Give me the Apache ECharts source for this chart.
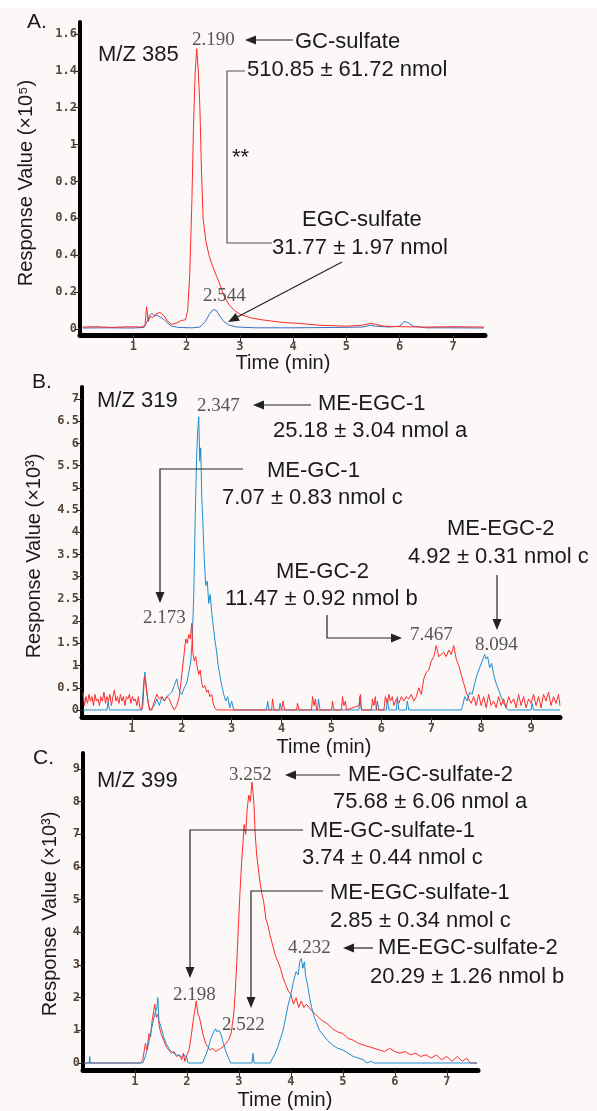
<!DOCTYPE html>
<html>
<head>
<meta charset="utf-8">
<script src="https://cdn.jsdelivr.net/npm/echarts@6/dist/echarts.min.js"></script>
<style>
  html, body { margin: 0; padding: 0; background: #fcf8f7; }
  #chart { width: 597px; height: 1111px; }
</style>
</head>
<body>
<div id="chart"></div>
<script>
// ---- data: [time (min), response] ----
// Panel A, m/z 385, response x10^5
const aRed = [[0.05,0.01],[0.3,0.012],[0.6,0.008],[0.9,0.012],[1.15,0.01],[1.22,0.02],[1.25,0.12],[1.28,0.04],[1.32,0.07],[1.36,0.06],[1.42,0.08],[1.5,0.09],[1.58,0.07],[1.65,0.04],[1.72,0.025],[1.8,0.03],[1.9,0.045],[1.98,0.05],[2.02,0.1],[2.06,0.3],[2.1,0.7],[2.13,1.1],[2.16,1.38],[2.19,1.52],[2.22,1.4],[2.25,1.2],[2.28,0.85],[2.31,0.6],[2.36,0.48],[2.42,0.4],[2.5,0.33],[2.6,0.26],[2.7,0.18],[2.8,0.13],[2.9,0.1],[3.0,0.08],[3.2,0.06],[3.4,0.05],[3.8,0.035],[4.1,0.03],[4.5,0.02],[5.0,0.015],[5.3,0.02],[5.45,0.03],[5.55,0.025],[5.7,0.015],[6.0,0.012],[6.5,0.01],[7.0,0.012],[7.58,0.01]];
const aBlue = [[0.05,0.005],[0.5,0.006],[1.0,0.005],[1.2,0.008],[1.26,0.04],[1.3,0.07],[1.35,0.085],[1.4,0.07],[1.45,0.075],[1.5,0.065],[1.58,0.05],[1.65,0.03],[1.72,0.015],[1.85,0.008],[2.1,0.006],[2.25,0.01],[2.35,0.04],[2.43,0.08],[2.5,0.105],[2.56,0.1],[2.62,0.07],[2.7,0.04],[2.8,0.02],[2.95,0.01],[3.3,0.006],[4.0,0.006],[4.8,0.008],[5.3,0.01],[5.45,0.02],[5.55,0.015],[5.8,0.01],[6.0,0.015],[6.08,0.04],[6.15,0.035],[6.25,0.015],[6.5,0.006],[7.0,0.006],[7.58,0.005]];

// Panel B, m/z 319, response x10^3
const bRed = [[0.02,0.4],[0.05,0.1],[0.08,0.3],[0.11,0.15],[0.14,0.35],[0.17,0.2],[0.2,0.3],[0.23,0.1],[0.26,0.35],[0.29,0.2],[0.32,0.25],[0.35,0.1],[0.38,0.3],[0.41,0.2],[0.44,0.4],[0.47,0.15],[0.5,0.3],[0.53,0.2],[0.56,0.35],[0.59,0.1],[0.62,0.3],[0.65,0.45],[0.68,0.2],[0.71,0.3],[0.74,0.15],[0.77,0.35],[0.8,0.2],[0.83,0.3],[0.86,0.1],[0.89,0.3],[0.92,0.25],[0.95,0.35],[0.98,0.15],[1.01,0.3],[1.04,0.2],[1.07,0.25],[1.1,0.1],[1.13,0.3],[1.16,0.05],[1.19,0],[1.22,0.1],[1.25,0.75],[1.28,0.6],[1.31,0.3],[1.35,0],[1.4,0],[1.45,0.2],[1.5,0.35],[1.55,0.25],[1.6,0.3],[1.65,0.2],[1.7,0.3],[1.75,0.25],[1.8,0.1],[1.85,0],[1.9,0.1],[1.95,0.3],[2.0,0.8],[2.05,1.3],[2.08,1.6],[2.11,1.5],[2.14,1.7],[2.17,1.6],[2.2,1.95],[2.22,1.3],[2.25,1.1],[2.28,1.2],[2.31,0.95],[2.34,0.8],[2.37,0.9],[2.4,0.6],[2.43,0.5],[2.46,0.55],[2.5,0.4],[2.53,0.45],[2.56,0.3],[2.6,0.35],[2.63,0.15],[2.66,0.05],[2.7,0],[3.8,0],[3.82,0.25],[3.85,0],[4.0,0],[4.03,0.2],[4.06,0],[4.3,0],[4.32,0.15],[4.35,0],[4.6,0],[4.62,0.3],[4.65,0.1],[4.68,0.25],[4.7,0],[5.0,0],[5.02,0.2],[5.05,0],[5.2,0],[5.22,0.3],[5.25,0.1],[5.28,0.2],[5.3,0],[5.55,0.1],[5.58,0.35],[5.6,0],[5.8,0],[5.82,0.25],[5.85,0.1],[5.88,0.3],[5.9,0],[6.05,0],[6.08,0.3],[6.12,0.15],[6.15,0.35],[6.18,0.2],[6.22,0.3],[6.25,0.1],[6.3,0.25],[6.35,0.15],[6.4,0.3],[6.45,0.2],[6.5,0.3],[6.55,0.25],[6.6,0.35],[6.65,0.2],[6.7,0.3],[6.75,0.5],[6.8,0.35],[6.85,0.7],[6.9,0.85],[6.95,0.9],[7.0,1.1],[7.05,1.2],[7.1,1.45],[7.15,1.2],[7.2,1.25],[7.25,1.3],[7.3,1.2],[7.35,1.35],[7.4,1.25],[7.45,1.45],[7.5,1.15],[7.55,1.0],[7.6,0.8],[7.65,0.6],[7.7,0.4],[7.75,0.25],[7.8,0.15],[7.85,0.3],[7.9,0.1],[7.95,0.35],[8.0,0.1],[8.05,0.3],[8.1,0.05],[8.15,0.35],[8.2,0.1],[8.25,0.2],[8.3,0.05],[8.35,0.3],[8.4,0.1],[8.45,0.25],[8.5,0.05],[8.55,0.3],[8.6,0.15],[8.65,0.25],[8.7,0.05],[8.75,0.35],[8.8,0.1],[8.85,0.3],[8.9,0.05],[8.95,0.25],[9.0,0.15],[9.05,0.35],[9.1,0.1],[9.15,0.3],[9.2,0.05],[9.25,0.35],[9.3,0.2],[9.35,0.4],[9.4,0.1],[9.45,0.3],[9.5,0.15],[9.55,0.35],[9.58,0.1]];
const bBlue = [[0.02,0],[0.5,0],[0.52,0.2],[0.55,0],[1.2,0],[1.23,0.5],[1.26,0.85],[1.29,0.5],[1.32,0.2],[1.36,0],[1.45,0.1],[1.5,0.25],[1.55,0.1],[1.6,0.3],[1.65,0.2],[1.7,0.3],[1.75,0.35],[1.8,0.4],[1.85,0.55],[1.9,0.7],[1.93,0.5],[1.97,0.4],[2.0,0.35],[2.05,0.5],[2.1,0.6],[2.15,0.9],[2.18,1.1],[2.21,1.6],[2.24,2.6],[2.27,4.4],[2.3,5.8],[2.32,6.3],[2.34,6.6],[2.36,5.6],[2.38,5.9],[2.4,4.8],[2.42,4.3],[2.45,3.4],[2.48,2.8],[2.51,2.9],[2.54,2.4],[2.57,2.6],[2.6,2.2],[2.63,1.9],[2.66,1.6],[2.7,1.3],[2.73,1.0],[2.76,0.8],[2.8,0.55],[2.84,0.35],[2.88,0.2],[2.92,0.3],[2.96,0.05],[3.0,0.2],[3.04,0],[3.7,0],[3.72,0.2],[3.75,0],[3.95,0],[3.97,0.15],[4.0,0],[4.72,0],[4.74,0.25],[4.77,0],[5.55,0],[5.57,0.3],[5.6,0],[5.9,0],[5.92,0.2],[5.95,0],[6.1,0],[6.12,0.25],[6.15,0],[6.3,0],[6.32,0.3],[6.35,0],[6.5,0],[6.52,0.2],[6.55,0],[7.6,0],[7.63,0.1],[7.67,0.3],[7.72,0.2],[7.77,0.4],[7.82,0.35],[7.87,0.6],[7.92,0.8],[7.97,0.95],[8.02,1.1],[8.07,1.25],[8.1,1.15],[8.13,1.2],[8.17,0.95],[8.21,1.05],[8.25,0.8],[8.3,0.6],[8.35,0.45],[8.4,0.3],[8.45,0.15],[8.5,0.05],[8.55,0],[9.0,0],[9.02,0.15],[9.05,0],[9.58,0]];

// Panel C, m/z 399, response x10^3
const cRed = [[0.02,0],[1.1,0],[1.15,0.1],[1.2,0.6],[1.23,0.4],[1.27,0.9],[1.3,0.8],[1.33,1.3],[1.36,1.6],[1.38,1.8],[1.41,1.4],[1.44,1.5],[1.47,1.1],[1.5,0.9],[1.55,0.7],[1.6,0.5],[1.65,0.4],[1.7,0.3],[1.75,0.35],[1.8,0.2],[1.85,0.25],[1.9,0.1],[1.93,0.3],[1.96,0.05],[2.0,0.25],[2.04,0.4],[2.08,0.8],[2.12,1.3],[2.15,1.6],[2.18,1.9],[2.21,1.5],[2.24,1.4],[2.28,1.1],[2.32,0.8],[2.36,0.6],[2.4,0.5],[2.45,0.4],[2.5,0.45],[2.55,0.35],[2.6,0.4],[2.65,0.45],[2.7,0.5],[2.75,0.6],[2.8,0.7],[2.85,0.9],[2.9,1.5],[2.93,2.2],[2.96,3.1],[2.99,4.2],[3.02,5.2],[3.05,6.1],[3.08,6.8],[3.1,7.3],[3.13,7.0],[3.16,7.8],[3.19,8.2],[3.22,8.0],[3.25,8.6],[3.27,8.3],[3.29,7.9],[3.31,7.1],[3.34,6.4],[3.37,6.0],[3.4,5.6],[3.44,5.2],[3.48,4.9],[3.52,4.4],[3.56,4.2],[3.6,3.9],[3.65,3.6],[3.7,3.3],[3.75,3.1],[3.8,2.9],[3.85,2.6],[3.9,2.4],[3.95,2.2],[4.0,2.1],[4.05,1.8],[4.1,2.0],[4.15,1.7],[4.2,1.9],[4.25,1.7],[4.3,1.8],[4.4,1.6],[4.5,1.45],[4.6,1.3],[4.7,1.2],[4.8,1.05],[4.9,0.95],[5.0,0.9],[5.1,0.75],[5.2,0.7],[5.3,0.6],[5.4,0.55],[5.5,0.5],[5.6,0.45],[5.7,0.4],[5.8,0.35],[5.9,0.45],[6.0,0.35],[6.1,0.3],[6.2,0.35],[6.3,0.25],[6.4,0.3],[6.5,0.2],[6.6,0.25],[6.7,0.15],[6.8,0.25],[6.9,0.1],[7.0,0.2],[7.1,0.05],[7.2,0.2],[7.3,0.05],[7.38,0.15],[7.45,0],[7.58,0]];
const cBlue = [[0.02,0],[0.12,0],[0.13,0.2],[0.14,0],[1.15,0],[1.2,0.2],[1.25,0.5],[1.3,0.9],[1.34,1.2],[1.38,1.5],[1.42,1.7],[1.44,2.0],[1.46,1.3],[1.5,1.1],[1.55,0.8],[1.6,0.6],[1.65,0.45],[1.7,0.35],[1.75,0.3],[1.8,0.25],[1.9,0.2],[1.95,0.25],[2.0,0.15],[2.02,0],[2.3,0],[2.35,0.2],[2.4,0.4],[2.45,0.7],[2.5,0.9],[2.55,1.05],[2.58,0.95],[2.62,1.0],[2.66,0.85],[2.7,0.6],[2.75,0.35],[2.8,0.15],[2.84,0],[3.25,0],[3.27,0.3],[3.29,0],[3.6,0],[3.65,0.15],[3.7,0.3],[3.75,0.5],[3.8,0.75],[3.85,1.0],[3.9,1.4],[3.95,1.8],[4.0,2.1],[4.05,2.5],[4.1,2.8],[4.14,2.7],[4.17,3.1],[4.2,3.2],[4.23,2.9],[4.26,3.1],[4.28,2.7],[4.32,2.4],[4.36,2.0],[4.4,1.7],[4.45,1.4],[4.5,1.2],[4.55,1.0],[4.6,0.9],[4.7,0.7],[4.8,0.55],[4.9,0.45],[5.0,0.4],[5.1,0.3],[5.2,0.2],[5.3,0.15],[5.4,0.1],[5.45,0],[5.55,0.05],[5.6,0],[7.58,0]];

// tick labels
const aYTicks = [0, 0.2, 0.4, 0.6, 0.8, 1, 1.2, 1.4, 1.6];
const bYTicks = [0, 0.5, 1, 1.5, 2, 2.5, 3, 3.5, 4, 4.5, 5, 5.5, 6, 6.5, 7];
const cYTicks = [0, 1, 2, 3, 4, 5, 6, 7, 8, 9];
const aXTicks = [1, 2, 3, 4, 5, 6, 7];
const bXTicks = [1, 2, 3, 4, 5, 6, 7, 8, 9];
const cXTicks = [1, 2, 3, 4, 5, 6, 7];

const RED = '#ff2b2b';
const BLUE_A = '#3d6fc2';
const BLUE = '#1c8fd0';
const SANS = '"Liberation Sans", Arial, sans-serif';
const SERIF = '"Liberation Serif", "DejaVu Serif", serif';
const TICKFONT = '"DejaVu Sans Mono", "Liberation Mono", monospace';
const TICKCOLOR = '#56463c';

function xAxisFor(idx, max, ticks) {
  return {
    type: 'value', gridIndex: idx, min: 0, max: max,
    axisLine: { show: true, onZero: false, lineStyle: { color: '#000', width: 5 } },
    axisTick: { show: true, customValues: ticks, length: 7, lineStyle: { color: '#333', width: 1 } },
    splitLine: { show: false },
    axisLabel: {
      customValues: ticks, margin: 6,
      fontFamily: TICKFONT, fontWeight: 'bold', fontSize: 12, color: TICKCOLOR
    }
  };
}
function yAxisFor(idx, min, max, ticks) {
  return {
    type: 'value', gridIndex: idx, min: min, max: max,
    axisLine: { show: true, onZero: false, lineStyle: { color: '#000', width: 4 } },
    axisTick: { show: true, customValues: ticks, length: 6, lineStyle: { color: '#222', width: 1 } },
    splitLine: { show: false },
    axisLabel: {
      customValues: ticks, margin: 3,
      fontFamily: TICKFONT, fontWeight: 'bold', fontSize: 12, color: TICKCOLOR
    }
  };
}
function line(idx, data, color) {
  return {
    type: 'line', xAxisIndex: idx, yAxisIndex: idx, data: data,
    symbol: 'none', lineStyle: { color: color, width: 1 }, z: 2
  };
}

// annotation helpers (pixel layout)
function txt(x, y, s, font, color, align) {
  return {
    type: 'text', x: x, y: y, z: 10,
    style: { text: s, font: font, fill: color || '#1a1a1a', textAlign: align || 'left', textVerticalAlign: 'middle' }
  };
}
function label(x, y, s) { return txt(x, y, s, '22px ' + SANS); }
function peak(x, y, s) { return txt(x, y, s, '19px ' + SERIF, '#555'); }
function arrow(pts, color) {
  const c = color || '#222';
  const n = pts.length;
  const [x1, y1] = pts[n - 2], [x2, y2] = pts[n - 1];
  const len = Math.hypot(x2 - x1, y2 - y1);
  const ux = (x2 - x1) / len, uy = (y2 - y1) / len;
  const hl = 11, hw = 4.5;
  const bx = x2 - ux * hl, by = y2 - uy * hl;
  const body = pts.slice(0, n - 1).concat([[bx + ux * 2, by + uy * 2]]);
  return [
    { type: 'polyline', z: 10, shape: { points: body }, style: { stroke: c, lineWidth: 1.2, fill: null } },
    { type: 'polygon', z: 10, shape: { points: [[x2, y2], [bx - uy * hw, by + ux * hw], [bx + uy * hw, by - ux * hw]] }, style: { fill: c } }
  ];
}
function yName(x, y, s) {
  return {
    type: 'text', x: x, y: y, rotation: Math.PI / 2, z: 10,
    style: { text: s, font: '20px ' + SANS, fill: '#1a1a1a', textAlign: 'center', textVerticalAlign: 'middle' }
  };
}

const graphics = [
  { type: 'rect', shape: { x: 0, y: 0, width: 597, height: 8 }, style: { fill: '#fff' }, z: 0 },
  // panel A
  txt(27, 22, 'A.', '21px ' + SANS),
  label(98, 55, 'M/Z 385'),
  peak(192, 40, '2.190'),
  ...arrow([[293, 40], [245, 40]]),
  label(295, 42, 'GC-sulfate'),
  label(247, 70, '510.85 ± 61.72 nmol'),
  { type: 'polyline', z: 10, shape: { points: [[245, 71], [227, 71], [227, 243], [272, 243]] }, style: { stroke: '#555', lineWidth: 1.2, fill: null } },
  txt(232, 158, '**', '22px ' + SANS),
  label(302, 220, 'EGC-sulfate'),
  label(272, 248, '31.77 ± 1.97 nmol'),
  ...arrow([[342, 262], [228, 322]]),
  peak(203, 296, '2.544'),
  yName(26, 183, 'Response Value (×10⁵)'),
  txt(283, 363, 'Time (min)', '20px ' + SANS, '#1a1a1a', 'center'),
  // panel B
  txt(32, 382, 'B.', '21px ' + SANS),
  label(97, 401, 'M/Z 319'),
  peak(197, 406, '2.347'),
  ...arrow([[311, 405], [253, 405]]),
  label(318, 404, 'ME-EGC-1'),
  label(273, 431, '25.18 ± 3.04 nmol a'),
  ...arrow([[243, 469], [160, 469], [160, 603]]),
  label(267, 471, 'ME-GC-1'),
  label(222, 498, '7.07 ± 0.83 nmol c'),
  peak(143, 618, '2.173'),
  label(276, 572, 'ME-GC-2'),
  label(225, 599, '11.47 ± 0.92 nmol b'),
  ...arrow([[327, 615], [327, 638], [402, 638]]),
  peak(410, 635, '7.467'),
  label(447, 529, 'ME-EGC-2'),
  label(408, 557, '4.92 ± 0.31 nmol c'),
  ...arrow([[497, 575], [497, 630]]),
  peak(475, 645, '8.094'),
  yName(34, 556, 'Response Value (×10³)'),
  txt(324, 747, 'Time (min)', '20px ' + SANS, '#1a1a1a', 'center'),
  // panel C
  txt(33, 758, 'C.', '21px ' + SANS),
  label(97, 781, 'M/Z 399'),
  peak(229, 775, '3.252'),
  ...arrow([[340, 775], [285, 775]]),
  label(348, 775, 'ME-GC-sulfate-2'),
  label(333, 802, '75.68 ± 6.06 nmol a'),
  ...arrow([[303, 830], [190, 830], [190, 978]]),
  label(310, 831, 'ME-GC-sulfate-1'),
  label(302, 858, '3.74 ± 0.44 nmol c'),
  ...arrow([[323, 891], [251, 891], [251, 1008]]),
  label(330, 893, 'ME-EGC-sulfate-1'),
  label(330, 921, '2.85 ± 0.34 nmol c'),
  peak(288, 948, '4.232'),
  ...arrow([[373, 948], [343, 948]]),
  label(378, 948, 'ME-EGC-sulfate-2'),
  label(370, 977, '20.29 ± 1.26 nmol b'),
  peak(173, 995, '2.198'),
  peak(222, 1025, '2.522'),
  yName(50, 914, 'Response Value (×10³)'),
  txt(285, 1100, 'Time (min)', '20px ' + SANS, '#1a1a1a', 'center')
];

const chart = echarts.init(document.getElementById('chart'));
chart.setOption({
  animation: false,
  backgroundColor: '#fcf8f7',
  grid: [
    { left: 80, top: 22, width: 405, height: 313 },
    { left: 82, top: 387, width: 478, height: 330 },
    { left: 83, top: 753, width: 395, height: 317 }
  ],
  xAxis: [xAxisFor(0, 7.6, aXTicks), xAxisFor(1, 9.58, bXTicks), xAxisFor(2, 7.6, cXTicks)],
  yAxis: [yAxisFor(0, -0.033, 1.665, aYTicks), yAxisFor(1, -0.158, 7.27, bYTicks), yAxisFor(2, -0.214, 9.49, cYTicks)],
  series: [
    line(0, aBlue, BLUE_A), line(0, aRed, RED),
    line(1, bBlue, BLUE), line(1, bRed, RED),
    line(2, cRed, RED), line(2, cBlue, BLUE)
  ],
  graphic: graphics
});
</script>
</body>
</html>
